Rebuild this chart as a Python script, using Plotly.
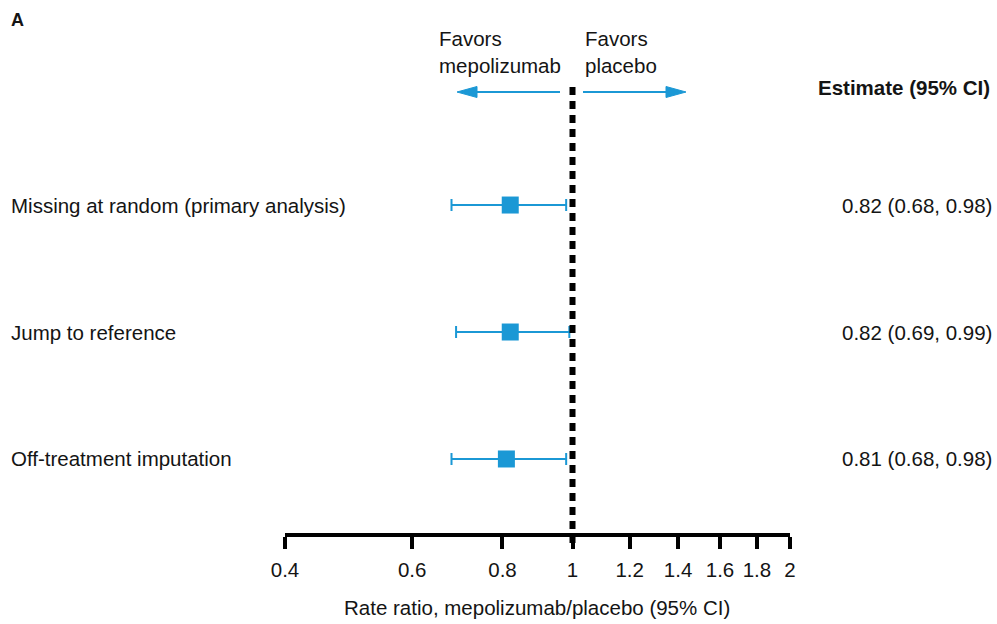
import math
import plotly.graph_objects as go

# ---- data ----
labels = ["Missing at random (primary analysis)", "Jump to reference", "Off-treatment imputation"]
estimates = [0.82, 0.82, 0.81]
lower = [0.68, 0.69, 0.68]
upper = [0.98, 0.99, 0.98]
est_text = ["0.82 (0.68, 0.98)", "0.82 (0.69, 0.99)", "0.81 (0.68, 0.98)"]
row_pos = [3, 2, 1]
tick_vals = [0.4, 0.6, 0.8, 1, 1.2, 1.4, 1.6, 1.8, 2]
tick_text = ["0.4", "0.6", "0.8", "1", "1.2", "1.4", "1.6", "1.8", "2"]
x_min, x_max = 0.4, 2
ref_value = 1

# ---- layout helpers ----
W, H = 997, 624
L, R, T, B = 285, 207, 82, 91
pw, ph = W - L - R, H - T - B
FONT = "Liberation Sans, Arial, Helvetica, sans-serif"
FS = 20.5
BLUE = "#1B98D5"
TXT = "#141414"


def px(x):
    return (x - L) / pw


def py(y):
    return (H - B - y) / ph


lr = [math.log10(x_min), math.log10(x_max)]
ref_paper = (math.log10(ref_value) - lr[0]) / (lr[1] - lr[0])

fig = go.Figure()
fig.add_trace(go.Scatter(
    x=estimates, y=row_pos, mode="markers",
    marker=dict(symbol="square", size=17, color=BLUE),
    error_x=dict(type="data", symmetric=False,
                 array=[u - e for u, e in zip(upper, estimates)],
                 arrayminus=[e - l for e, l in zip(estimates, lower)],
                 color=BLUE, thickness=2, width=6),
    showlegend=False, hoverinfo="skip", cliponaxis=False,
))

shapes = [
    # reference dashed line
    dict(type="line", xref="paper", yref="paper", x0=ref_paper, x1=ref_paper,
         y0=py(543), y1=py(81), line=dict(color="black", width=6, dash="8px,6px"), layer="above"),
    # left arrow
    dict(type="line", xref="paper", yref="paper", x0=px(474), x1=px(560), y0=py(92), y1=py(92),
         line=dict(color=BLUE, width=2)),
    dict(type="path", xref="paper", yref="paper",
         path=f"M {px(457)} {py(92)} L {px(477)} {py(86.5)} L {px(477)} {py(97.5)} Z",
         fillcolor=BLUE, line=dict(color=BLUE, width=1)),
    # right arrow
    dict(type="line", xref="paper", yref="paper", x0=px(583), x1=px(670), y0=py(92), y1=py(92),
         line=dict(color=BLUE, width=2)),
    dict(type="path", xref="paper", yref="paper",
         path=f"M {px(686)} {py(92)} L {px(666)} {py(86.5)} L {px(666)} {py(97.5)} Z",
         fillcolor=BLUE, line=dict(color=BLUE, width=1)),
]

annotations = [
    dict(text="<b>A</b>", xref="paper", yref="paper", x=px(9), y=py(20),
         xanchor="left", yanchor="middle", showarrow=False, font=dict(size=18)),
    dict(text="Favors<br>mepolizumab", xref="paper", yref="paper", x=px(437), y=py(52),
         xanchor="left", yanchor="middle", align="left", showarrow=False),
    dict(text="Favors<br>placebo", xref="paper", yref="paper", x=px(583), y=py(52),
         xanchor="left", yanchor="middle", align="left", showarrow=False),
    dict(text="<b>Estimate (95% CI)</b>", xref="paper", yref="paper", x=px(992), y=py(87),
         xanchor="right", yanchor="middle", showarrow=False),
    dict(text="Rate ratio, mepolizumab/placebo (95% CI)", xref="paper", yref="paper",
         x=px(537), y=py(607), xanchor="center", yanchor="middle", showarrow=False),
]
for lab, est, yp in zip(labels, est_text, row_pos):
    annotations.append(dict(text=lab, xref="paper", yref="y", x=px(9), y=yp,
                            xanchor="left", yanchor="middle", showarrow=False))
    annotations.append(dict(text=est, xref="paper", yref="y", x=px(994), y=yp,
                            xanchor="right", yanchor="middle", showarrow=False))

fig.update_layout(
    width=W, height=H,
    margin=dict(l=L, r=R, t=T, b=B, pad=0),
    paper_bgcolor="white", plot_bgcolor="white",
    font=dict(family=FONT, size=FS, color=TXT),
    shapes=shapes, annotations=annotations,
    xaxis=dict(type="log", range=lr, tickvals=tick_vals, ticktext=tick_text,
               ticks="outside", ticklen=12, tickwidth=4, tickcolor="black",
               showline=True, linewidth=4, linecolor="black",
               showgrid=False, zeroline=False, tickfont=dict(size=FS, color=TXT),
               ticklabelstandoff=3, fixedrange=True),
    yaxis=dict(range=[0.417, 3.969], visible=False, showgrid=False, zeroline=False,
               fixedrange=True),
)

fig.write_html(
    "out.html",
    config={"displayModeBar": False, "staticPlot": True},
    post_script="document.body.style.margin='0';document.body.style.overflow='hidden';",
)
